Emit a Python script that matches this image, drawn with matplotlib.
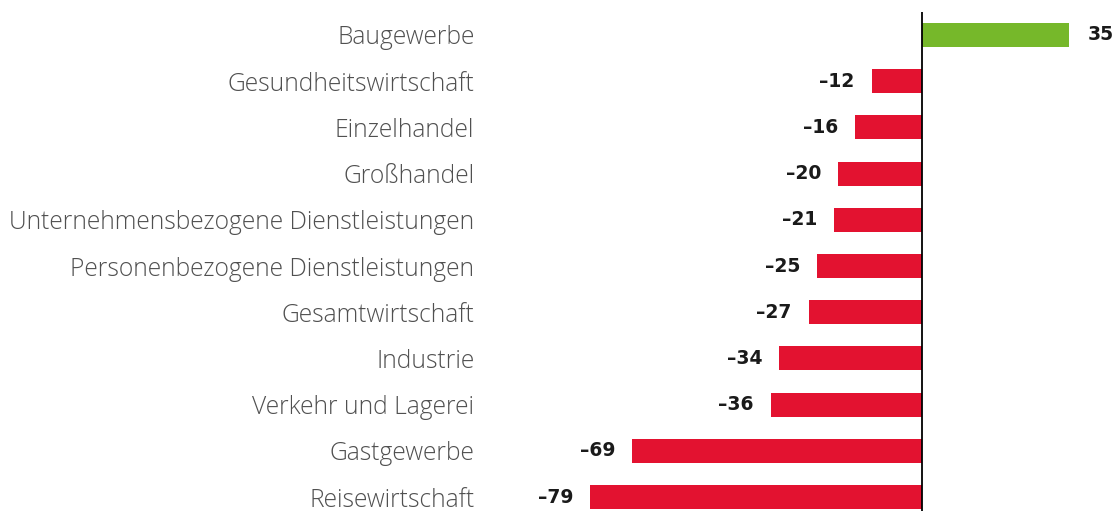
import matplotlib
matplotlib.use("Agg")
import matplotlib.pyplot as plt

categories = ["Baugewerbe", "Gesundheitswirtschaft", "Einzelhandel", "Großhandel",
              "Unternehmensbezogene Dienstleistungen", "Personenbezogene Dienstleistungen",
              "Gesamtwirtschaft", "Industrie", "Verkehr und Lagerei", "Gastgewerbe",
              "Reisewirtschaft"]
values = [35, -12, -16, -20, -21, -25, -27, -34, -36, -69, -79]

GREEN = "#76B82A"
RED = "#E31230"

fig = plt.figure(figsize=(11.17, 5.11), dpi=100)
W, H = 1117, 511
ax = fig.add_axes([480 / W, 0, 1 - 480 / W, 1])
ppu = 4.2
ax.set_xlim((480 - 922) / ppu, (1117 - 922) / ppu)
sp = 46.2
ax.set_ylim(10 + 14 / sp, -35 / sp)

ypos = list(range(len(categories)))
colors = [GREEN if v > 0 else RED for v in values]
ax.barh(ypos, values, height=0.52, color=colors)
ax.plot([0, 0], [-0.5, 10 + 14 / sp], color="black", lw=1.3, solid_capstyle="butt")

for y, v in zip(ypos, values):
    txt = f"{v}" if v > 0 else "\u2013" + str(abs(v))
    if v > 0:
        ax.annotate(txt, (v, y), xytext=(19, 0), textcoords="offset pixels",
                    ha="left", va="center", fontsize=13.5, fontweight="bold", color="#1a1a1a",
                    family="DejaVu Sans")
    else:
        ax.annotate(txt, (v, y), xytext=(-17, 0), textcoords="offset pixels",
                    ha="right", va="center", fontsize=13.5, fontweight="bold", color="#1a1a1a",
                    family="DejaVu Sans")

ax.set_yticks(ypos)
ax.set_yticklabels(categories, fontsize=17.7, color="#505050", family="Open Sans", fontweight="light")
ax.tick_params(axis="y", length=0, pad=4)
ax.set_xticks([])
for s in ax.spines.values():
    s.set_visible(False)

fig.savefig("out.png", dpi=100)
